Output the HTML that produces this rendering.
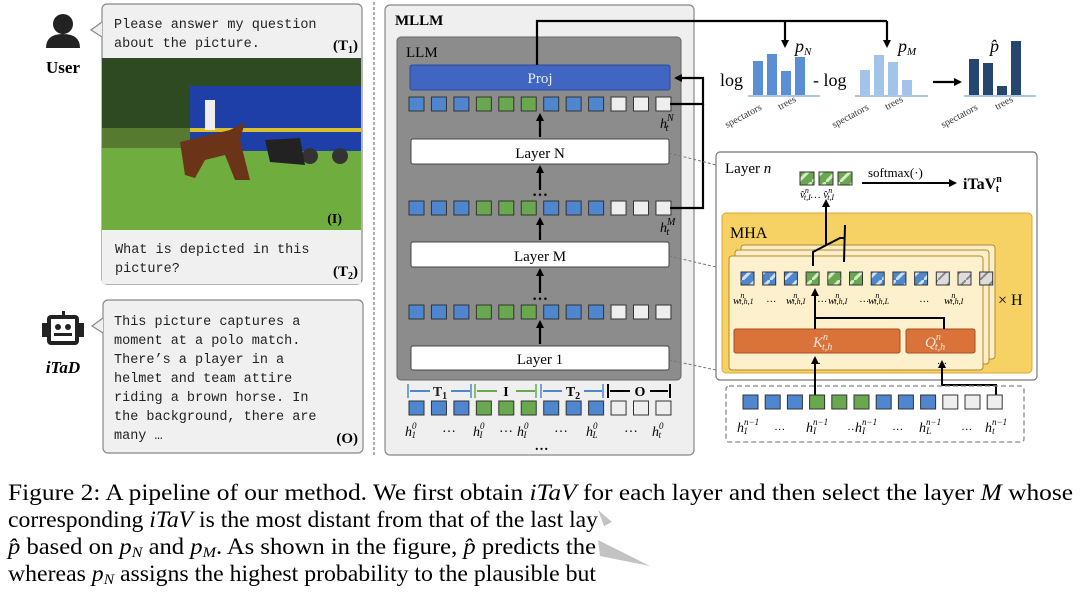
<!DOCTYPE html>
<html><head><meta charset="utf-8"><style>
html,body{margin:0;padding:0;background:#fff;width:1080px;height:595px;overflow:hidden}
svg text{font-family:"Liberation Serif",serif}
.m{font-family:"Liberation Mono",monospace;font-size:13.5px;fill:#222}
.b{font-weight:bold}
.i{font-style:italic}
</style></head><body>
<svg id="s" width="1080" height="595" viewBox="0 0 1080 595" xmlns="http://www.w3.org/2000/svg">
<defs>
<marker id="ah" markerWidth="8" markerHeight="8" refX="6" refY="4" orient="auto" markerUnits="userSpaceOnUse"><path d="M0,0 L8,4 L0,8z" fill="#000"/></marker>
<pattern id="hb" width="14" height="14" patternUnits="userSpaceOnUse"><rect width="14" height="14" fill="#4f86d0"/><path d="M0,14 L14,0" stroke="#cfe0f5" stroke-width="3"/></pattern>
<pattern id="hg" width="14" height="14" patternUnits="userSpaceOnUse"><rect width="14" height="14" fill="#6aa84f"/><path d="M0,14 L14,0" stroke="#d6ecc8" stroke-width="3"/></pattern>
<pattern id="hw" width="14" height="14" patternUnits="userSpaceOnUse"><rect width="14" height="14" fill="#ddd"/><path d="M0,14 L14,0" stroke="#888" stroke-width="2"/></pattern>
<linearGradient id="fade" x1="0" x2="1" y1="0" y2="0"><stop offset="0" stop-color="#fff" stop-opacity="0"/><stop offset="0.05" stop-color="#fff" stop-opacity="1"/><stop offset="1" stop-color="#fff"/></linearGradient>
</defs>

<circle cx="63" cy="24" r="10" fill="#222"/>
<path d="M46,48 Q46,34 63,34 Q80,34 80,48 Z" fill="#222"/>
<text x="63" y="73" text-anchor="middle" class="b" font-size="17">User</text>
<rect x="102" y="4" width="260" height="280" rx="5" fill="#f0f0f0" stroke="#888" stroke-width="1.2"/>
<path d="M102,22 L91,30 L102,37" fill="#f0f0f0" stroke="#888" stroke-width="1.2"/>
<text x="114" y="28" class="m">Please answer my question</text>
<text x="114" y="47" class="m">about the picture.</text>
<text x="358" y="50" text-anchor="end" class="b" font-size="15">(T<tspan font-size="10" dy="3">1</tspan><tspan dy="-3">)</tspan></text>
<rect x="102" y="58" width="259" height="172" fill="#6fae3e"/>
<rect x="102" y="58" width="259" height="80" fill="#2e4a22"/>
<rect x="102" y="128" width="259" height="20" fill="#557a30"/>
<rect x="190" y="86" width="171" height="65" fill="#1f3fa8"/>
<rect x="190" y="128" width="171" height="4" fill="#d8c02a"/>
<circle cx="310" cy="156" r="8" fill="#333"/><circle cx="340" cy="156" r="8" fill="#333"/>
<path d="M180,142 L230,130 L245,122 L240,140 L250,180 L235,180 L225,155 L205,160 L195,178 L185,175 Z" fill="#6b3418"/>
<rect x="205" y="100" width="10" height="30" fill="#eee"/>
<path d="M265,140 L300,138 L305,165 L270,162 Z" fill="#222"/>
<rect x="102" y="230" width="259" height="54" fill="#f0f0f0"/>
<text x="342" y="223" text-anchor="end" class="b" font-size="14">(I)</text>
<text x="115" y="253" class="m">What is depicted in this</text>
<text x="115" y="272" class="m">picture?</text>
<text x="358" y="276" text-anchor="end" class="b" font-size="15">(T<tspan font-size="10" dy="3">2</tspan><tspan dy="-3">)</tspan></text>
<rect x="62" y="311" width="3" height="6" fill="#222"/>
<rect x="49" y="317" width="28" height="26" rx="2" fill="none" stroke="#222" stroke-width="4"/>
<rect x="42" y="323" width="6" height="14" fill="#222"/><rect x="78" y="323" width="6" height="14" fill="#222"/>
<circle cx="58" cy="327" r="3" fill="#222"/><circle cx="68" cy="327" r="3" fill="#222"/>
<rect x="54" y="333" width="18" height="3" fill="#222"/>
<text x="63" y="373" text-anchor="middle" class="b i" font-size="17">iTaD</text>
<rect x="103" y="300" width="260" height="153" rx="5" fill="#f0f0f0" stroke="#888" stroke-width="1.2"/>
<path d="M103,318 L92,326 L103,333" fill="#f0f0f0" stroke="#888" stroke-width="1.2"/>
<text x="114" y="325" class="m">This picture captures a</text>
<text x="114" y="344" class="m">moment at a polo match.</text>
<text x="114" y="363" class="m">There’s a player in a</text>
<text x="114" y="382" class="m">helmet and team attire</text>
<text x="114" y="401" class="m">riding a brown horse. In</text>
<text x="114" y="420" class="m">the background, there are</text>
<text x="114" y="439" class="m">many …</text>
<text x="358" y="443" text-anchor="end" class="b" font-size="15">(O)</text>

<line x1="374" y1="2" x2="374" y2="456" stroke="#777" stroke-width="1.2" stroke-dasharray="3,2"/>

<rect x="385" y="5" width="309" height="450" rx="5" fill="#efefef" stroke="#888" stroke-width="1.2"/>
<text x="395" y="25" class="b" font-size="15">MLLM</text>
<rect x="397" y="37" width="284" height="343" rx="4" fill="#8c8c8c" stroke="#666"/>
<text x="406" y="57" font-size="15">LLM</text>
<rect x="410" y="65" width="260" height="25" rx="2" fill="#4066c2" stroke="#2a4a99"/>
<text x="540" y="83" text-anchor="middle" font-size="15" fill="#e8eeff">Proj</text>
<rect x="411" y="139" width="258" height="25" rx="2" fill="#fff" stroke="#444"/>
<text x="540" y="158" text-anchor="middle" font-size="15">Layer N</text>
<rect x="411" y="242" width="258" height="25" rx="2" fill="#fff" stroke="#444"/>
<text x="540" y="261" text-anchor="middle" font-size="15">Layer M</text>
<rect x="411" y="346" width="258" height="24" rx="2" fill="#fff" stroke="#444"/>
<text x="540" y="364" text-anchor="middle" font-size="15">Layer 1</text>
<g stroke="#000" stroke-width="2.2" marker-end="url(#ah)">
<line x1="540" y1="137" x2="540" y2="115"/>
<line x1="540" y1="190" x2="540" y2="167"/>
<line x1="540" y1="240" x2="540" y2="219"/>
<line x1="540" y1="293" x2="540" y2="270"/>
<line x1="540" y1="344" x2="540" y2="322"/>
</g>
<text x="540" y="196" text-anchor="middle" font-size="16" class="b">…</text>
<text x="540" y="300" text-anchor="middle" font-size="16" class="b">…</text>
<text x="660" y="128" font-size="14" class="i">h<tspan font-size="10" dy="-7">N</tspan><tspan font-size="10" dx="-8" dy="10">t</tspan></text>
<text x="660" y="232" font-size="14" class="i">h<tspan font-size="10" dy="-7">M</tspan><tspan font-size="10" dx="-9" dy="10">t</tspan></text>
<g id="rows"></g>
<g font-size="14" class="b">
<text x="440" y="396" text-anchor="middle" fill="#222">T<tspan font-size="10" dy="3">1</tspan></text>
<text x="506" y="396" text-anchor="middle">I</text>
<text x="573" y="396" text-anchor="middle">T<tspan font-size="10" dy="3">2</tspan></text>
<text x="640" y="396" text-anchor="middle">O</text>
</g>
<g stroke-width="1.5">
<path d="M408,384 V398 M471,384 V398 M541,384 V398 M603,384 V398" stroke="#4f86d0"/>
<path d="M410,391 H430 M451,391 H470 M543,391 H562 M584,391 H602" stroke="#4f86d0" stroke-width="2"/>
<path d="M477,391 H497 M516,391 H535" stroke="#6aa84f" stroke-width="2"/>
<path d="M475,384 V398 M536,384 V398" stroke="#6aa84f"/>
<path d="M608,384 V398 M670,384 V398 M610,391 H630 M650,391 H668" stroke="#000" stroke-width="2"/>
</g>
<g font-size="14" class="i">
<text x="405" y="436">h<tspan font-size="9" dy="-7">0</tspan><tspan font-size="9" dx="-5" dy="9">1</tspan></text>
<text x="443" y="432">…</text>
<text x="473" y="436">h<tspan font-size="9" dy="-7">0</tspan><tspan font-size="9" dx="-5" dy="9">I</tspan></text>
<text x="500" y="432">…</text>
<text x="517" y="436">h<tspan font-size="9" dy="-7">0</tspan><tspan font-size="9" dx="-5" dy="9">I</tspan></text>
<text x="555" y="432">…</text>
<text x="586" y="436">h<tspan font-size="9" dy="-7">0</tspan><tspan font-size="9" dx="-5" dy="9">L</tspan></text>
<text x="625" y="432">…</text>
<text x="652" y="436">h<tspan font-size="9" dy="-7">0</tspan><tspan font-size="9" dx="-5" dy="9">t</tspan></text>
<text x="535" y="450" class="b">…</text>
</g>

<g stroke="#000" stroke-width="2.2" fill="none">
<path d="M537,65 V21 H887"/>
<path d="M670,104 H703 V78 H676" marker-end="url(#ah)"/>
<path d="M670,208 H703 V104"/>
</g>
<g stroke="#000" stroke-width="2.2" marker-end="url(#ah)">
<line x1="785" y1="21" x2="785" y2="46"/>
<line x1="887" y1="21" x2="887" y2="46"/>
<line x1="933" y1="82" x2="960" y2="82"/>
</g>
<text x="795" y="52" font-size="18" class="i">p<tspan font-size="11" dy="3">N</tspan></text>
<text x="898" y="52" font-size="18" class="i">p<tspan font-size="11" dy="3">M</tspan></text>
<text x="990" y="52" font-size="18" class="i">p̂</text>
<text x="720" y="86" font-size="18">log</text>
<text x="813" y="86" font-size="18">- log</text>
<g fill="#5a8fd6">
<rect x="753" y="61" width="10" height="34"/><rect x="767" y="54" width="10" height="41"/><rect x="781" y="71" width="10" height="24"/><rect x="795" y="57" width="10" height="38"/>
</g>
<g fill="#a3c4ea">
<rect x="860" y="70" width="10" height="25"/><rect x="874" y="55" width="10" height="40"/><rect x="888" y="62" width="10" height="33"/><rect x="902" y="80" width="10" height="15"/>
</g>
<g fill="#24466f">
<rect x="969" y="59" width="10" height="36"/><rect x="983" y="63" width="10" height="32"/><rect x="997" y="86" width="10" height="9"/><rect x="1011" y="41" width="10" height="54"/>
</g>
<g stroke="#7aa3d8" stroke-width="1.2">
<line x1="748" y1="96" x2="820" y2="96"/>
<line x1="855" y1="96" x2="928" y2="96"/>
<line x1="964" y1="96" x2="1036" y2="96"/>
</g>
<g font-size="10" fill="#333">
<text transform="translate(727,128) rotate(-28)">spectators</text><text transform="translate(780,110) rotate(-28)">trees</text>
<text transform="translate(834,128) rotate(-28)">spectators</text><text transform="translate(887,110) rotate(-28)">trees</text>
<text transform="translate(943,128) rotate(-28)">spectators</text><text transform="translate(997,110) rotate(-28)">trees</text>
</g>

<g stroke="#777" stroke-dasharray="3,2" stroke-width="1">
<line x1="669" y1="153" x2="716" y2="165"/>
<line x1="669" y1="256" x2="716" y2="267"/>
<line x1="669" y1="360" x2="716" y2="370"/>
</g>

<rect x="716" y="152" width="321" height="228" rx="4" fill="#fff" stroke="#777" stroke-width="1.2"/>
<text x="725" y="173" font-size="15">Layer <tspan class="i">n</tspan></text>
<rect x="800" y="172" width="14" height="13" fill="url(#hg)" stroke="#333"/>
<rect x="819" y="172" width="14" height="13" fill="url(#hg)" stroke="#333"/>
<rect x="838" y="172" width="14" height="13" fill="url(#hg)" stroke="#333"/>
<text x="800" y="198" font-size="11" class="i">v̂<tspan font-size="8" dy="-5">n</tspan><tspan font-size="8" dx="-5" dy="7">t,I</tspan><tspan dy="-2">… v̂</tspan><tspan font-size="8" dy="-5">n</tspan><tspan font-size="8" dx="-5" dy="7">t,I</tspan></text>
<text x="868" y="177" font-size="13">softmax(·)</text>
<line x1="862" y1="183" x2="955" y2="183" stroke="#000" stroke-width="2" marker-end="url(#ah)"/>
<text x="963" y="189" font-size="16" class="b">iTaV<tspan font-size="10" dy="-7">n</tspan><tspan font-size="10" dx="-6" dy="10">t</tspan></text>
<rect x="722" y="213" width="310" height="160" rx="4" fill="#f6d163" stroke="#d9a93a"/>
<text x="730" y="238" font-size="16">MHA</text>
<rect x="741" y="245" width="254" height="114" rx="3" fill="#fdeec8" stroke="#b08a30"/>
<rect x="735" y="250" width="254" height="114" rx="3" fill="#fdeec8" stroke="#b08a30"/>
<rect x="729" y="256" width="254" height="114" rx="3" fill="#fdf0cc" stroke="#b08a30"/>
<text x="998" y="305" font-size="16">× H</text>
<g id="wrow"></g>
<g font-size="11" class="i">
<text x="733" y="304">w<tspan font-size="8" dy="-6">n</tspan><tspan font-size="8" dx="-5" dy="6">t,h,1</tspan></text>
<text x="767" y="302" font-size="10">…</text>
<text x="786" y="304">w<tspan font-size="8" dy="-6">n</tspan><tspan font-size="8" dx="-5" dy="6">t,h,I</tspan></text>
<text x="818" y="302" font-size="10">…</text>
<text x="828" y="304">w<tspan font-size="8" dy="-6">n</tspan><tspan font-size="8" dx="-5" dy="6">t,h,I</tspan></text>
<text x="860" y="302" font-size="10">…</text>
<text x="868" y="304">w<tspan font-size="8" dy="-6">n</tspan><tspan font-size="8" dx="-5" dy="6">t,h,L</tspan></text>
<text x="920" y="302" font-size="10">…</text>
<text x="944" y="304">w<tspan font-size="8" dy="-6">n</tspan><tspan font-size="8" dx="-5" dy="6">t,h,I</tspan></text>
</g>
<rect x="734" y="329" width="166" height="24" rx="2" fill="#d9733a" stroke="#a94f20"/>
<rect x="906" y="329" width="69" height="24" rx="2" fill="#d9733a" stroke="#a94f20"/>
<text x="813" y="347" font-size="15" class="i" fill="#fde8d8">K<tspan font-size="10" dy="-7">n</tspan><tspan font-size="10" dx="-6" dy="10">t,h</tspan></text>
<text x="925" y="347" font-size="15" class="i" fill="#fde8d8">Q<tspan font-size="10" dy="-7">n</tspan><tspan font-size="10" dx="-6" dy="10">t,h</tspan></text>
<text x="811" y="364" font-size="10">…</text>
<text x="937" y="364" font-size="10">…</text>
<g stroke="#000" stroke-width="2" fill="none">
<path d="M815,329 V318 M815,318 H944 V329"/>
<line x1="815" y1="318" x2="815" y2="290" marker-end="url(#ah)"/>
<path d="M813,266 V252 L840,238 L845,238 M845,225 L844,262"/>
<line x1="826" y1="245" x2="826" y2="201" marker-end="url(#ah)"/>
<line x1="815" y1="397" x2="815" y2="358" marker-end="url(#ah)"/>
<path d="M996,395 V385 H942 V362" marker-end="url(#ah)"/>
</g>
<rect x="726" y="386" width="298" height="56" rx="3" fill="none" stroke="#888" stroke-width="1.3" stroke-dasharray="5,3"/>
<g id="hrow"></g>
<g font-size="14" class="i">
<text x="737" y="432">h<tspan font-size="9" dy="-7">n−1</tspan><tspan font-size="9" dx="-15" dy="9">1</tspan></text>
<text x="775" y="430" font-size="11">…</text>
<text x="806" y="432">h<tspan font-size="9" dy="-7">n−1</tspan><tspan font-size="9" dx="-15" dy="9">I</tspan></text>
<text x="848" y="430" font-size="11">…</text>
<text x="855" y="432">h<tspan font-size="9" dy="-7">n−1</tspan><tspan font-size="9" dx="-15" dy="9">I</tspan></text>
<text x="893" y="430" font-size="11">…</text>
<text x="919" y="432">h<tspan font-size="9" dy="-7">n−1</tspan><tspan font-size="9" dx="-15" dy="9">L</tspan></text>
<text x="962" y="430" font-size="11">…</text>
<text x="985" y="432">h<tspan font-size="9" dy="-7">n−1</tspan><tspan font-size="9" dx="-15" dy="9">t</tspan></text>
</g>

<g font-size="23">
<text x="8" y="500" textLength="1065" lengthAdjust="spacingAndGlyphs">Figure 2:  A pipeline of our method.  We first obtain <tspan class="i">iTaV</tspan> for each layer and then select the layer <tspan class="i">M</tspan> whose</text>
<text x="8" y="527" textLength="590" lengthAdjust="spacingAndGlyphs">corresponding <tspan class="i">iTaV</tspan> is the most distant from that of the last lay</text>
<text x="8" y="554" textLength="588" lengthAdjust="spacingAndGlyphs"><tspan class="i">p̂</tspan> based on <tspan class="i">p</tspan><tspan class="i" font-size="15" dy="3">N</tspan><tspan dy="-3"> and </tspan><tspan class="i">p</tspan><tspan class="i" font-size="15" dy="3">M</tspan><tspan dy="-3">. As shown in the figure, </tspan><tspan class="i">p̂</tspan> predicts the</text>
<text x="8" y="581" textLength="588" lengthAdjust="spacingAndGlyphs">whereas <tspan class="i">p</tspan><tspan class="i" font-size="15" dy="3">N</tspan><tspan dy="-3"> assigns the highest probability to the plausible but</tspan></text>
</g>
<path d="M598,510 L612,522 L604,526 Z M598,540 L650,566 L600,556 Z" fill="#888" opacity="0.5"/>
</svg>
<script>
var NS="http://www.w3.org/2000/svg";
function tok(g,x,y,w,h,f){var r=document.createElementNS(NS,"rect");r.setAttribute("x",x);r.setAttribute("y",y);r.setAttribute("width",w);r.setAttribute("height",h);r.setAttribute("fill",f);r.setAttribute("stroke","#333");r.setAttribute("stroke-width","1");g.appendChild(r);}
var C=["#4f86d0","#4f86d0","#4f86d0","#6aa84f","#6aa84f","#6aa84f","#4f86d0","#4f86d0","#4f86d0","#eee","#eee","#eee"];
var H=["url(#hb)","url(#hb)","url(#hb)","url(#hg)","url(#hg)","url(#hg)","url(#hb)","url(#hb)","url(#hb)","url(#hw)","url(#hw)","url(#hw)"];
var g=document.getElementById("rows");
[97,201,305,401].forEach(function(y){for(var i=0;i<12;i++)tok(g,409+i*22.45,y,15,14,C[i]);});
var w=document.getElementById("wrow");for(var i=0;i<12;i++)tok(w,741+i*21.7,272,13,13,H[i]);
var h=document.getElementById("hrow");for(var i=0;i<12;i++)tok(h,743+i*22.2,395,15,14,C[i]);
</script>
</body></html>
